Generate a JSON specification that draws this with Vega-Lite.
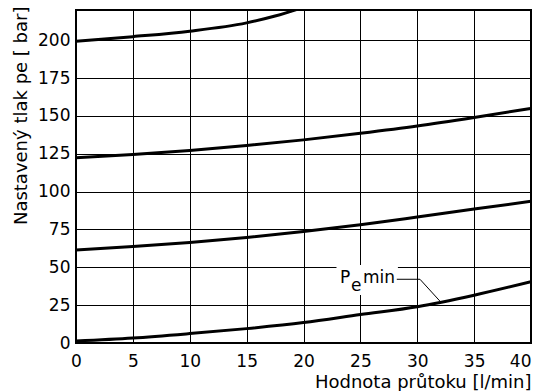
{
  "$schema": "https://vega.github.io/schema/vega-lite/v6.json",
  "width": 455,
  "height": 333,
  "autosize": {"type": "none"},
  "padding": {"left": 76, "top": 10, "right": 7, "bottom": 48},
  "background": "white",
  "config": {
    "view": {"stroke": "black", "strokeWidth": 2},
    "axis": {
      "domain": false,
      "ticks": false,
      "grid": true,
      "gridColor": "black",
      "gridOpacity": 1,
      "gridWidth": 1,
      "labelFont": "DejaVu Sans",
      "labelFontSize": 17,
      "labelColor": "black",
      "titleFont": "DejaVu Sans",
      "titleFontSize": 18,
      "titleFontWeight": "normal",
      "titleColor": "black"
    }
  },
  "datasets": {
    "curves": [
      {"s": "a", "q": 0, "p": 199.3},
      {"s": "a", "q": 5, "p": 202.4},
      {"s": "a", "q": 10, "p": 206},
      {"s": "a", "q": 15, "p": 211.5},
      {"s": "a", "q": 17.5, "p": 216},
      {"s": "a", "q": 20, "p": 221.8},
      {"s": "b", "q": 0, "p": 122.4},
      {"s": "b", "q": 5, "p": 124.5},
      {"s": "b", "q": 10, "p": 127.2},
      {"s": "b", "q": 15, "p": 130.5},
      {"s": "b", "q": 20, "p": 134.2},
      {"s": "b", "q": 25, "p": 138.6},
      {"s": "b", "q": 30, "p": 143.4},
      {"s": "b", "q": 35, "p": 149},
      {"s": "b", "q": 40, "p": 155},
      {"s": "c", "q": 0, "p": 61.5},
      {"s": "c", "q": 5, "p": 63.7},
      {"s": "c", "q": 10, "p": 66.4},
      {"s": "c", "q": 15, "p": 69.7},
      {"s": "c", "q": 20, "p": 73.7},
      {"s": "c", "q": 25, "p": 78.1},
      {"s": "c", "q": 30, "p": 83.2},
      {"s": "c", "q": 35, "p": 88.5},
      {"s": "c", "q": 40, "p": 93.6},
      {"s": "d", "q": 0, "p": 1.3},
      {"s": "d", "q": 5, "p": 3.3},
      {"s": "d", "q": 10, "p": 6.2},
      {"s": "d", "q": 15, "p": 9.5},
      {"s": "d", "q": 20, "p": 13.5},
      {"s": "d", "q": 25, "p": 18.8},
      {"s": "d", "q": 30, "p": 24},
      {"s": "d", "q": 35, "p": 31.6},
      {"s": "d", "q": 40, "p": 40.5}
    ],
    "box": [{"x1": 22.9, "x2": 28.3, "y1": 31.7, "y2": 51.6}],
    "leader": [
      {"o": 1, "q": 28.2, "p": 42.1},
      {"o": 2, "q": 30.24, "p": 42.1},
      {"o": 3, "q": 32.0, "p": 27.6}
    ],
    "labels": [
      {"t": "P", "q": 23.21, "p": 39.4},
      {"t": "e", "q": 24.18, "p": 34.5},
      {"t": "min", "q": 25.23, "p": 39.6}
    ]
  },
  "layer": [
    {
      "data": {"name": "curves"},
      "mark": {"type": "line", "interpolate": "monotone", "color": "black", "strokeWidth": 3, "clip": true},
      "encoding": {
        "x": {
          "field": "q", "type": "quantitative",
          "scale": {"domain": [0, 40], "nice": false},
          "axis": {
            "values": [0, 5, 10, 15, 20, 25, 30, 35, 40],
            "labelPadding": 10,
            "labelAlign": {"condition": {"test": "datum.value == 40", "value": "right"}, "value": "center"},
            "title": "Hodnota průtoku [l/min]",
            "titleAnchor": "end",
            "titleBaseline": "alphabetic",
            "titleY": 44
          }
        },
        "y": {
          "field": "p", "type": "quantitative",
          "scale": {"domain": [0, 220], "nice": false},
          "axis": {
            "values": [0, 25, 50, 75, 100, 125, 150, 175, 200],
            "labelPadding": 6,
            "title": "Nastavený tlak pe  [ bar]",
            "titleAlign": "right",
            "titleBaseline": "alphabetic",
            "titleX": -50,
            "titleY": -4
          }
        },
        "detail": {"field": "s"}
      }
    },
    {
      "data": {"name": "box"},
      "mark": {"type": "rect", "color": "white"},
      "encoding": {
        "x": {"field": "x1", "type": "quantitative"},
        "x2": {"field": "x2"},
        "y": {"field": "y1", "type": "quantitative"},
        "y2": {"field": "y2"}
      }
    },
    {
      "data": {"name": "leader"},
      "mark": {"type": "line", "color": "black", "strokeWidth": 1},
      "encoding": {
        "x": {"field": "q", "type": "quantitative"},
        "y": {"field": "p", "type": "quantitative"},
        "order": {"field": "o"}
      }
    },
    {
      "data": {"name": "labels"},
      "mark": {"type": "text", "align": "left", "baseline": "alphabetic", "font": "DejaVu Sans", "fontSize": 17, "color": "black"},
      "encoding": {
        "x": {"field": "q", "type": "quantitative"},
        "y": {"field": "p", "type": "quantitative"},
        "text": {"field": "t"}
      }
    }
  ]
}
